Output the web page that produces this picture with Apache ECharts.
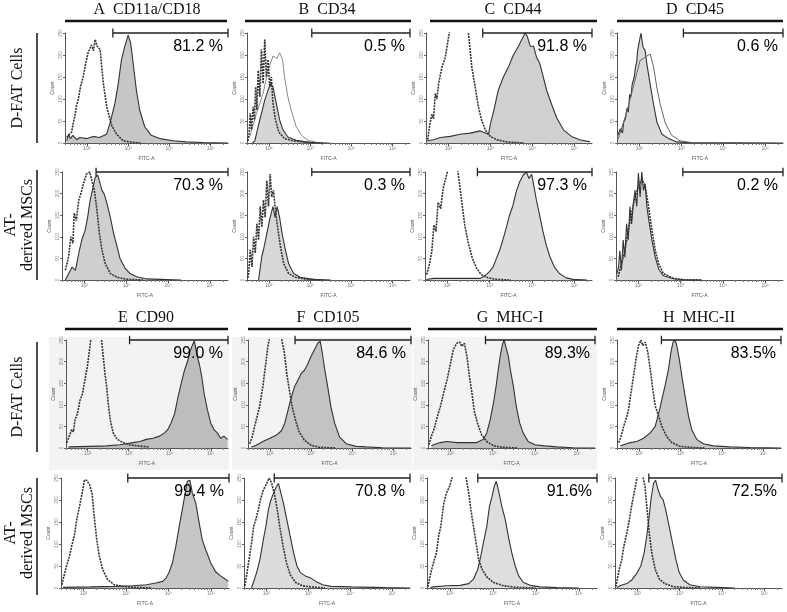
<!DOCTYPE html>
<html><head><meta charset="utf-8">
<script src="https://cdn.jsdelivr.net/npm/echarts@6/dist/echarts.min.js"></script>
<style>html,body{margin:0;padding:0;background:#fff}#c{width:787px;height:612px}</style>
</head><body><div id="c"></div>
<script>
// ---------------- DATA (x = log10 FITC-A, y = relative count, axis top = 100) ----------------
const A1_ctrl = [[1.51,5],[1.63,10],[1.67,18],[1.71,25],[1.75,34],[1.79,39],[1.85,52],[1.91,60],[1.97,72],[2.03,82],[2.11,89],[2.16,84],[2.20,94],[2.25,88],[2.32,85],[2.40,54],[2.48,33],[2.60,16],[2.72,8],[2.88,2],[3.04,1],[3.3,0]];
const A1_smp = [[1.51,2],[1.56,8],[1.6,4],[1.66,7],[1.75,3],[1.83,5],[2.0,4],[2.15,6],[2.3,5],[2.48,8],[2.56,18],[2.68,36],[2.76,54],[2.84,76],[2.92,88],[3.00,98],[3.06,91],[3.12,73],[3.20,48],[3.28,30],[3.40,15],[3.56,7],[3.77,4],[4.09,2],[4.41,1],[4.8,0.5],[5.42,0]];
const B1_ctrl = [[1.49,2],[1.52,8.5],[1.55,27],[1.58,12],[1.62,33],[1.65,21],[1.68,51],[1.71,30],[1.74,66],[1.78,42],[1.82,85],[1.86,54],[1.90,94],[1.94,60],[1.98,76],[2.02,51],[2.06,60],[2.10,36],[2.16,21],[2.24,10],[2.38,4],[2.58,2],[2.91,0.6],[3.3,0]];
const B1_smp = [[1.60,0],[1.66,2],[1.74,15],[1.82,27],[1.90,39],[1.98,48],[2.04,54],[2.10,51],[2.18,36],[2.26,21],[2.34,12],[2.46,5.5],[2.66,2.4],[2.99,0.6],[3.4,0]];
const B1_ext = [[1.53,5],[1.70,27],[1.86,45],[1.98,66],[2.10,79],[2.20,77],[2.26,82],[2.33,76],[2.38,60],[2.46,42],[2.54,30],[2.66,15],[2.79,7],[2.95,2.4],[3.15,0.6],[3.5,0]];
const C1_ctrl = [[1.51,3],[1.56,17],[1.61,26],[1.65,22],[1.69,45],[1.73,40],[1.77,54],[1.85,69],[1.93,78],[2.01,97],[2.05,106],[2.13,118],[2.25,140],[2.36,125],[2.48,100],[2.52,85],[2.56,69],[2.64,51],[2.72,32],[2.80,20],[2.88,12],[3.00,6],[3.15,3],[3.39,1],[3.8,0]];
const C1_smp = [[1.5,2],[1.65,3],[1.81,5],[2.05,6],[2.28,8],[2.52,9],[2.76,11],[2.96,8],[3.00,17],[3.08,29],[3.19,48],[3.31,60],[3.43,69],[3.55,80],[3.67,88],[3.75,94],[3.83,100],[3.88,97],[3.95,88],[4.03,88],[4.10,78],[4.18,72],[4.26,60],[4.34,48],[4.46,35],[4.58,23],[4.74,12],[4.93,6],[5.13,3],[5.37,1]];
const D1_ctrl = [[1.49,3],[1.55,10],[1.71,29],[1.87,53],[2.02,75],[2.14,78],[2.26,81],[2.34,69],[2.42,50],[2.50,35],[2.62,18],[2.77,7],[2.97,2],[3.21,0.5],[3.6,0]];
const D1_smp = [[1.49,7],[1.55,13],[1.60,9],[1.63,19],[1.67,22],[1.71,32],[1.74,28],[1.77,44],[1.80,42],[1.83,53],[1.88,60],[1.91,69],[1.94,74],[1.96,84],[2.01,94],[2.04,100],[2.09,87],[2.14,84],[2.18,72],[2.26,53],[2.34,35],[2.42,19],[2.54,8],[2.70,4],[2.89,1],[3.2,0.3],[5.42,0]];
const A2_ctrl = [[1.55,9],[1.63,22],[1.68,40],[1.73,34],[1.76,62],[1.81,55],[1.87,74],[1.92,80],[1.98,89],[2.05,98],[2.13,100],[2.18,92],[2.24,83],[2.30,65],[2.36,43],[2.42,28],[2.50,15],[2.62,6],[2.78,2.5],[3.01,0.6],[3.4,0]];
const A2_smp = [[1.55,0],[1.59,1.5],[1.71,12],[1.79,9],[1.87,25],[1.94,37],[2.02,46],[2.08,58],[2.14,74],[2.21,86],[2.26,95],[2.32,97],[2.38,89],[2.42,83],[2.47,80],[2.54,71],[2.62,58],[2.70,43],[2.78,31],[2.85,20],[2.97,11],[3.09,6],[3.25,3],[3.49,1],[3.80,0.6],[4.3,0]];
const B2_ctrl = [[1.49,2],[1.51,6],[1.55,28],[1.59,12],[1.63,40],[1.67,25],[1.71,52],[1.75,37],[1.79,68],[1.83,49],[1.87,74],[1.91,58],[1.95,92],[1.99,68],[2.03,98],[2.07,77],[2.11,83],[2.15,68],[2.20,52],[2.28,31],[2.36,15],[2.48,6],[2.64,2.5],[2.92,0.6],[3.3,0]];
const B2_smp = [[1.75,0],[1.79,1.5],[1.83,22],[1.87,28],[1.95,43],[2.03,58],[2.10,68],[2.15,58],[2.20,68],[2.26,58],[2.32,43],[2.40,28],[2.48,15],[2.60,6],[2.76,2.5],[3.08,0.6],[3.5,0]];
const C2_ctrl = [[1.51,5],[1.57,14],[1.63,26],[1.68,51],[1.73,45],[1.78,72],[1.84,66],[1.90,85],[1.96,94],[2.02,103],[2.13,140],[2.25,100],[2.29,88],[2.36,66],[2.41,51],[2.49,35],[2.59,20],[2.69,11],[2.80,5],[2.96,2],[3.16,0.6],[3.5,0]];
const C2_smp = [[1.5,0.5],[1.67,1.5],[2.22,1.5],[2.77,1.5],[2.85,3],[2.92,5],[3.00,8],[3.08,12],[3.16,20],[3.24,28],[3.31,37],[3.39,48],[3.47,60],[3.55,69],[3.63,82],[3.71,91],[3.79,97],[3.87,100],[3.93,94],[3.99,98],[4.04,88],[4.10,75],[4.18,60],[4.26,45],[4.34,32],[4.42,22],[4.53,12],[4.65,6],[4.81,2],[4.97,0.6],[5.3,0]];
const D2_ctrl = [[1.52,3],[1.56,9],[1.68,27],[1.76,46],[1.84,62],[1.92,77],[2.00,87],[2.08,93],[2.16,87],[2.24,68],[2.32,46],[2.40,27],[2.48,15],[2.59,6],[2.83,1.5],[3.07,0.3],[3.5,0]];
const D2_smp = [[1.49,6],[1.53,12],[1.56,27],[1.60,9],[1.64,37],[1.68,21],[1.72,52],[1.76,37],[1.80,68],[1.84,52],[1.88,71],[1.92,83],[1.96,68],[2.00,99],[2.04,77],[2.08,100],[2.12,83],[2.16,89],[2.20,68],[2.26,52],[2.32,37],[2.40,21],[2.48,10],[2.59,4],[2.83,1.2],[3.07,0.3],[3.5,0]];
const E1_ctrl = [[1.49,5],[1.55,11],[1.61,17],[1.65,15],[1.69,26],[1.75,32],[1.81,44],[1.87,50],[1.93,63],[1.99,75],[2.04,90],[2.07,99],[2.13,130],[2.25,150],[2.34,99],[2.38,84],[2.42,69],[2.46,57],[2.50,41],[2.55,26],[2.62,14],[2.72,8],[2.86,5],[3.02,3],[3.2,2],[3.5,1]];
const E1_smp = [[1.53,1],[2.05,1.5],[2.46,2],[2.78,3],[2.94,4],[3.10,5],[3.27,6],[3.43,8],[3.59,9],[3.75,11],[3.87,14],[3.95,17],[4.03,23],[4.12,32],[4.20,47],[4.28,60],[4.36,72],[4.44,81],[4.50,90],[4.56,96],[4.60,99],[4.66,87],[4.72,78],[4.78,66],[4.84,50],[4.92,35],[5.00,23],[5.08,17],[5.16,14],[5.24,9],[5.32,11],[5.41,8]];
const F1_ctrl = [[1.51,4],[1.57,10],[1.63,20],[1.69,29],[1.75,38],[1.83,57],[1.89,75],[1.95,94],[2.00,103],[2.15,130],[2.29,100],[2.35,88],[2.41,69],[2.47,54],[2.54,38],[2.62,26],[2.71,15],[2.84,7],[3.00,2.5],[3.20,0.6],[3.6,0]];
const F1_smp = [[1.55,1],[1.67,2.5],[1.83,6],[2.00,9],[2.16,12],[2.28,16],[2.36,23],[2.44,35],[2.52,47],[2.60,57],[2.68,63],[2.76,69],[2.84,72],[2.92,78],[3.00,85],[3.08,91],[3.16,97],[3.22,99],[3.27,88],[3.32,75],[3.40,57],[3.48,38],[3.57,23],[3.69,10],[3.85,4],[4.09,1.5],[4.33,1],[4.73,0.3],[5.42,0]];
const G1_ctrl = [[1.49,3],[1.55,11],[1.61,17],[1.69,29],[1.76,38],[1.84,51],[1.92,63],[2.00,78],[2.07,91],[2.15,97],[2.22,98],[2.27,94],[2.33,97],[2.39,85],[2.45,66],[2.51,51],[2.56,35],[2.64,23],[2.74,12],[2.86,6],[3.02,2],[3.25,0.6],[3.6,0]];
const G1_smp = [[1.55,2],[1.60,3],[1.76,5],[1.92,6],[2.15,5],[2.39,5],[2.62,5],[2.78,8],[2.86,14],[2.94,26],[3.02,42],[3.08,57],[3.13,72],[3.19,88],[3.24,97],[3.27,100],[3.31,94],[3.37,85],[3.42,72],[3.49,57],[3.56,38],[3.64,23],[3.72,14],[3.84,6],[4.00,3],[4.23,2],[4.51,1],[4.90,0.3],[5.42,0]];
const H1_ctrl = [[1.51,5],[1.57,11],[1.63,20],[1.69,27],[1.75,36],[1.81,52],[1.87,67],[1.93,83],[1.99,95],[2.05,100],[2.09,95],[2.15,98],[2.21,89],[2.27,73],[2.33,55],[2.39,39],[2.47,30],[2.55,20],[2.66,11],[2.79,5],[2.99,1.5],[3.23,0.6],[3.6,0]];
const H1_smp = [[1.55,2],[1.63,3],[1.79,5],[1.95,6],[2.11,9],[2.27,14],[2.39,20],[2.50,36],[2.55,45],[2.63,58],[2.71,73],[2.77,89],[2.82,98],[2.87,100],[2.91,95],[2.98,80],[3.03,67],[3.11,48],[3.19,30],[3.27,17],[3.39,8],[3.55,4],[3.79,2],[4.19,1],[4.67,0.5],[5.42,0]];
const E2_ctrl = [[1.49,3],[1.52,8],[1.60,20],[1.67,29],[1.72,38],[1.78,47],[1.84,62],[1.92,77],[1.98,89],[2.02,98],[2.07,98],[2.14,94],[2.20,86],[2.25,65],[2.31,44],[2.37,29],[2.45,17],[2.56,8],[2.72,3],[2.92,1.5],[3.16,0.6],[3.6,0]];
const E2_smp = [[1.52,0.6],[2.15,1],[2.76,1.5],[3.16,2],[3.48,3],[3.70,4.5],[3.86,6],[3.94,9],[4.01,14],[4.09,23],[4.17,38],[4.25,56],[4.32,71],[4.39,86],[4.44,97],[4.50,98],[4.56,86],[4.64,77],[4.72,59],[4.79,44],[4.87,35],[4.99,23],[5.10,15],[5.22,11],[5.34,8],[5.40,6]];
const F2_ctrl = [[1.49,2],[1.53,11],[1.59,26],[1.65,41],[1.70,56],[1.75,62],[1.81,71],[1.86,80],[1.93,89],[2.01,95],[2.07,100],[2.13,95],[2.19,86],[2.25,74],[2.32,56],[2.40,38],[2.48,23],[2.57,12],[2.70,5],[2.86,2],[3.06,1],[3.4,0]];
const F2_smp = [[1.65,0],[1.69,1.5],[1.77,14],[1.85,26],[1.93,44],[1.99,56],[2.05,71],[2.11,80],[2.17,86],[2.24,92],[2.29,95],[2.35,86],[2.41,77],[2.49,62],[2.57,47],[2.65,32],[2.73,20],[2.81,14],[2.93,11],[3.06,9],[3.18,6],[3.34,3],[3.54,1.5],[4.03,1],[4.83,0.3],[5.42,0]];
const G2_ctrl = [[1.49,1],[1.51,2.4],[1.56,14],[1.62,23],[1.69,32],[1.74,47],[1.79,56],[1.86,77],[1.92,86],[1.99,92],[2.05,100],[2.13,115],[2.24,125],[2.38,100],[2.44,86],[2.49,71],[2.55,56],[2.61,41],[2.67,26],[2.75,17],[2.86,10],[3.02,5],[3.25,2],[3.56,0.6],[4.0,0]];
const G2_smp = [[1.55,0.5],[1.62,1],[1.93,2],[2.24,2.4],[2.44,4],[2.55,8],[2.65,17],[2.72,29],[2.78,41],[2.86,56],[2.92,74],[2.98,83],[3.03,92],[3.08,97],[3.13,89],[3.21,74],[3.29,62],[3.36,47],[3.44,32],[3.52,20],[3.60,11],[3.71,5],[3.87,2.4],[4.10,1],[4.49,0.3],[5.0,0]];
const H2_ctrl = [[1.49,1],[1.51,2.4],[1.57,17],[1.63,26],[1.68,38],[1.75,50],[1.81,62],[1.86,74],[1.92,86],[1.98,98],[2.06,115],[2.18,92],[2.23,71],[2.28,50],[2.34,32],[2.42,17],[2.52,8],[2.65,4],[2.85,1.2],[3.09,0.6],[3.5,0]];
const H2_smp = [[1.52,0.5],[1.59,2],[1.75,4],[1.86,7],[1.98,13],[2.08,20],[2.16,32],[2.22,47],[2.27,62],[2.32,80],[2.38,95],[2.43,98],[2.49,89],[2.55,83],[2.61,80],[2.67,71],[2.75,56],[2.83,41],[2.91,26],[2.99,14],[3.09,7],[3.24,3],[3.48,1.2],[3.87,0.6],[4.3,0]];

const panelIds = ['A1','B1','C1','D1','A2','B2','C2','D2','E1','F1','G1','H1','E2','F2','G2','H2'];
const percentLabels = ['81.2 %','0.5 %','91.8 %','0.6 %','70.3 %','0.3 %','97.3 %','0.2 %','99.0 %','84.6 %','89.3%','83.5%','99.4 %','70.8 %','91.6%','72.5%'];
const gateStart = [2.63,3.04,2.82,3.05,2.28,3.04,2.71,3.05,3.02,2.61,2.83,2.54,3.04,2.19,2.65,2.27];
const titlesTop = ['A  CD11a/CD18','B  CD34','C  CD44','D  CD45'];
const titlesBottom = ['E  CD90','F  CD105','G  MHC-I','H  MHC-II'];
const rowLabels = ['D-FAT Cells','AT-\nderived MSCs','D-FAT Cells','AT-\nderived MSCs'];
const xTickDecades = [2,3,4,5];
const xTickLabels = ['10\u00b2','10\u00b3','10\u2074','10\u2075'];
const yTickLabels = ['0','50','100','150','200','250'];
const XMIN = 1.47, XMAX = 5.42, YMAX = 100, GATE_Y = 100;

const curves = {
  A1:[A1_ctrl,A1_smp],B1:[B1_ctrl,B1_smp],C1:[C1_ctrl,C1_smp],D1:[D1_ctrl,D1_smp],
  A2:[A2_ctrl,A2_smp],B2:[B2_ctrl,B2_smp],C2:[C2_ctrl,C2_smp],D2:[D2_ctrl,D2_smp],
  E1:[E1_ctrl,E1_smp],F1:[F1_ctrl,F1_smp],G1:[G1_ctrl,G1_smp],H1:[H1_ctrl,H1_smp],
  E2:[E2_ctrl,E2_smp],F2:[F2_ctrl,F2_smp],G2:[G2_ctrl,G2_smp],H2:[H2_ctrl,H2_smp]
};
const extraOutlines = { B1: B1_ext };

// ---------------- LAYOUT / STYLE ----------------
const colX = [[65,228],[247,410],[426,592],[617,783],[62,228],[247,410],[425,592],[616,783],
              [66,228],[248,411],[428,595],[617,781],[61,229],[244,410],[427,597],[615,782]];
const rowY = [[33,143],[172,280],[340,448],[478,588]];
const fillColors = ['#c6c6c6','#d6d6d6','#d0d0d0','#d8d8d8','#cfcfcf','#d8d8d8','#dcdcdc','#dadada',
                    '#bdbdbd','#c3c3c3','#bfbfbf','#c6c6c6','#c6c6c6','#dcdcdc','#dedede','#dedede'];
const SERIF = '"Liberation Serif","Times New Roman",serif';
const SANS = '"Liberation Sans",Arial,sans-serif';

const minorTicks = [];
for (let d = 1; d <= 5; d++) for (let m = 2; m <= 9; m++) {
  const v = d + Math.log10(m);
  if (v > XMIN && v < XMAX) minorTicks.push(v);
}

const grid = [], xAxis = [], yAxis = [], series = [];
panelIds.forEach((id, i) => {
  const r = Math.floor(i / 4);
  const [x0, x1] = colX[i], [y0, y1] = rowY[r];
  grid.push({ left: x0, top: y0, width: x1 - x0, height: y1 - y0, containLabel: false });
  xAxis.push({
    gridIndex: i, type: 'value', min: XMIN, max: XMAX,
    axisLine: { lineStyle: { color: '#555', width: 1 } },
    axisTick: { customValues: xTickDecades, length: 3, lineStyle: { color: '#555' } },
    axisLabel: { customValues: xTickDecades, formatter: v => xTickLabels[xTickDecades.indexOf(Math.round(v))] || '',
                 fontSize: 5, color: '#777', margin: 3, fontFamily: SANS },
    splitLine: { show: false },
    name: 'FITC-A', nameLocation: 'middle', nameGap: 13,
    nameTextStyle: { fontSize: 5, color: '#555', fontFamily: SANS }
  });
  xAxis.push({
    gridIndex: i, type: 'value', min: XMIN, max: XMAX, position: 'bottom',
    axisLine: { show: false },
    axisTick: { customValues: minorTicks, length: 2, lineStyle: { color: '#777' } },
    axisLabel: { show: false }, splitLine: { show: false }
  });
  yAxis.push({
    gridIndex: i, type: 'value', min: 0, max: YMAX, interval: 20,
    axisLine: { show: true, lineStyle: { color: '#555', width: 1 } },
    axisTick: { show: true, length: 2, lineStyle: { color: '#666' } },
    axisLabel: { fontSize: 4.5, color: '#888', margin: 2, rotate: 90, fontFamily: SANS,
                 formatter: v => yTickLabels[Math.round(v / 20)] || '' },
    splitLine: { show: false },
    name: 'Count', nameLocation: 'middle', nameGap: 10,
    nameTextStyle: { fontSize: 5, color: '#555', fontFamily: SANS }
  });
  const [ctrl, smp] = curves[id];
  series.push({
    type: 'line', xAxisIndex: 2 * i, yAxisIndex: i, data: smp, symbol: 'none', clip: true,
    lineStyle: { color: '#333', width: 1.1 }, areaStyle: { color: fillColors[i], opacity: 1, origin: 'start' },
    z: 2, silent: true, animation: false
  });
  if (extraOutlines[id]) {
    series.push({
      type: 'line', xAxisIndex: 2 * i, yAxisIndex: i, data: extraOutlines[id], symbol: 'none', clip: true,
      lineStyle: { color: '#888', width: 1 }, z: 3, silent: true, animation: false
    });
  }
  series.push({
    type: 'line', xAxisIndex: 2 * i, yAxisIndex: i, data: ctrl, symbol: 'none', clip: true,
    lineStyle: id === 'D1' ? { color: '#666', width: 1 } : { color: '#333', width: 1.6, type: [2, 1] },
    z: 4, silent: true, animation: false
  });
  const g = gateStart[i];
  series.push({
    type: 'line', xAxisIndex: 2 * i, yAxisIndex: i, symbol: 'none', clip: false,
    data: [[g, GATE_Y + 4], [g, GATE_Y - 4], [g, GATE_Y], [XMAX, GATE_Y], [XMAX, GATE_Y + 4], [XMAX, GATE_Y - 4]],
    lineStyle: { color: '#222', width: 1.3 }, z: 5, silent: true, animation: false,
    markPoint: {
      symbol: 'circle', symbolSize: 0, silent: true, animation: false,
      data: [{ coord: [XMAX, GATE_Y] }],
      label: { show: true, formatter: percentLabels[i], position: [0, 0], align: 'right', verticalAlign: 'middle',
               offset: [-5, 14], fontSize: 16, color: '#000', fontFamily: SANS, opacity: 1 }
    }
  });
});

// ---------------- DECORATIONS ----------------
const graphic = [];
[[49,337,180,133],[232,337,180,133],[413,337,184,133]].forEach(b => graphic.push({
  type: 'rect', shape: { x: b[0], y: b[1], width: b[2], height: b[3] }, style: { fill: '#f3f3f3' }, z: -10, silent: true
}));
const titleCentersTop = [147,327,513,695], titleCentersBot = [146,328,510,699];
const rulesTop = [[65,227],[245,411],[430,597],[617,783]], rulesBot = [[65,228],[248,411],[428,597],[617,783]];
titlesTop.forEach((t, k) => {
  graphic.push({ type: 'text', x: titleCentersTop[k], y: 10, style: { text: t, font: '16px ' + SERIF, fill: '#111', textAlign: 'center', textVerticalAlign: 'middle' } });
  graphic.push({ type: 'line', shape: { x1: rulesTop[k][0], y1: 21, x2: rulesTop[k][1], y2: 21 }, style: { stroke: '#111', lineWidth: 2.5 } });
});
titlesBottom.forEach((t, k) => {
  graphic.push({ type: 'text', x: titleCentersBot[k], y: 318, style: { text: t, font: '16px ' + SERIF, fill: '#111', textAlign: 'center', textVerticalAlign: 'middle' } });
  graphic.push({ type: 'line', shape: { x1: rulesBot[k][0], y1: 329, x2: rulesBot[k][1], y2: 329 }, style: { stroke: '#111', lineWidth: 2.5 } });
});
const vBars = [[33,143],[170,280],[342,452],[478,595]];
const rowLabelPos = [[18,88],[19,225],[18,397],[19,533]];
rowLabels.forEach((t, k) => {
  graphic.push({ type: 'line', shape: { x1: 37, y1: vBars[k][0], x2: 37, y2: vBars[k][1] }, style: { stroke: '#111', lineWidth: 1.5 } });
  graphic.push({ type: 'text', x: rowLabelPos[k][0], y: rowLabelPos[k][1], rotation: Math.PI / 2,
    style: { text: t, font: '16px ' + SERIF, fill: '#111', textAlign: 'center', textVerticalAlign: 'middle', lineHeight: 17 } });
});

const chart = echarts.init(document.getElementById('c'), null, { renderer: 'canvas' });
chart.setOption({ animation: false, backgroundColor: '#fff', grid, xAxis, yAxis, series, graphic });
</script>
</body></html>
